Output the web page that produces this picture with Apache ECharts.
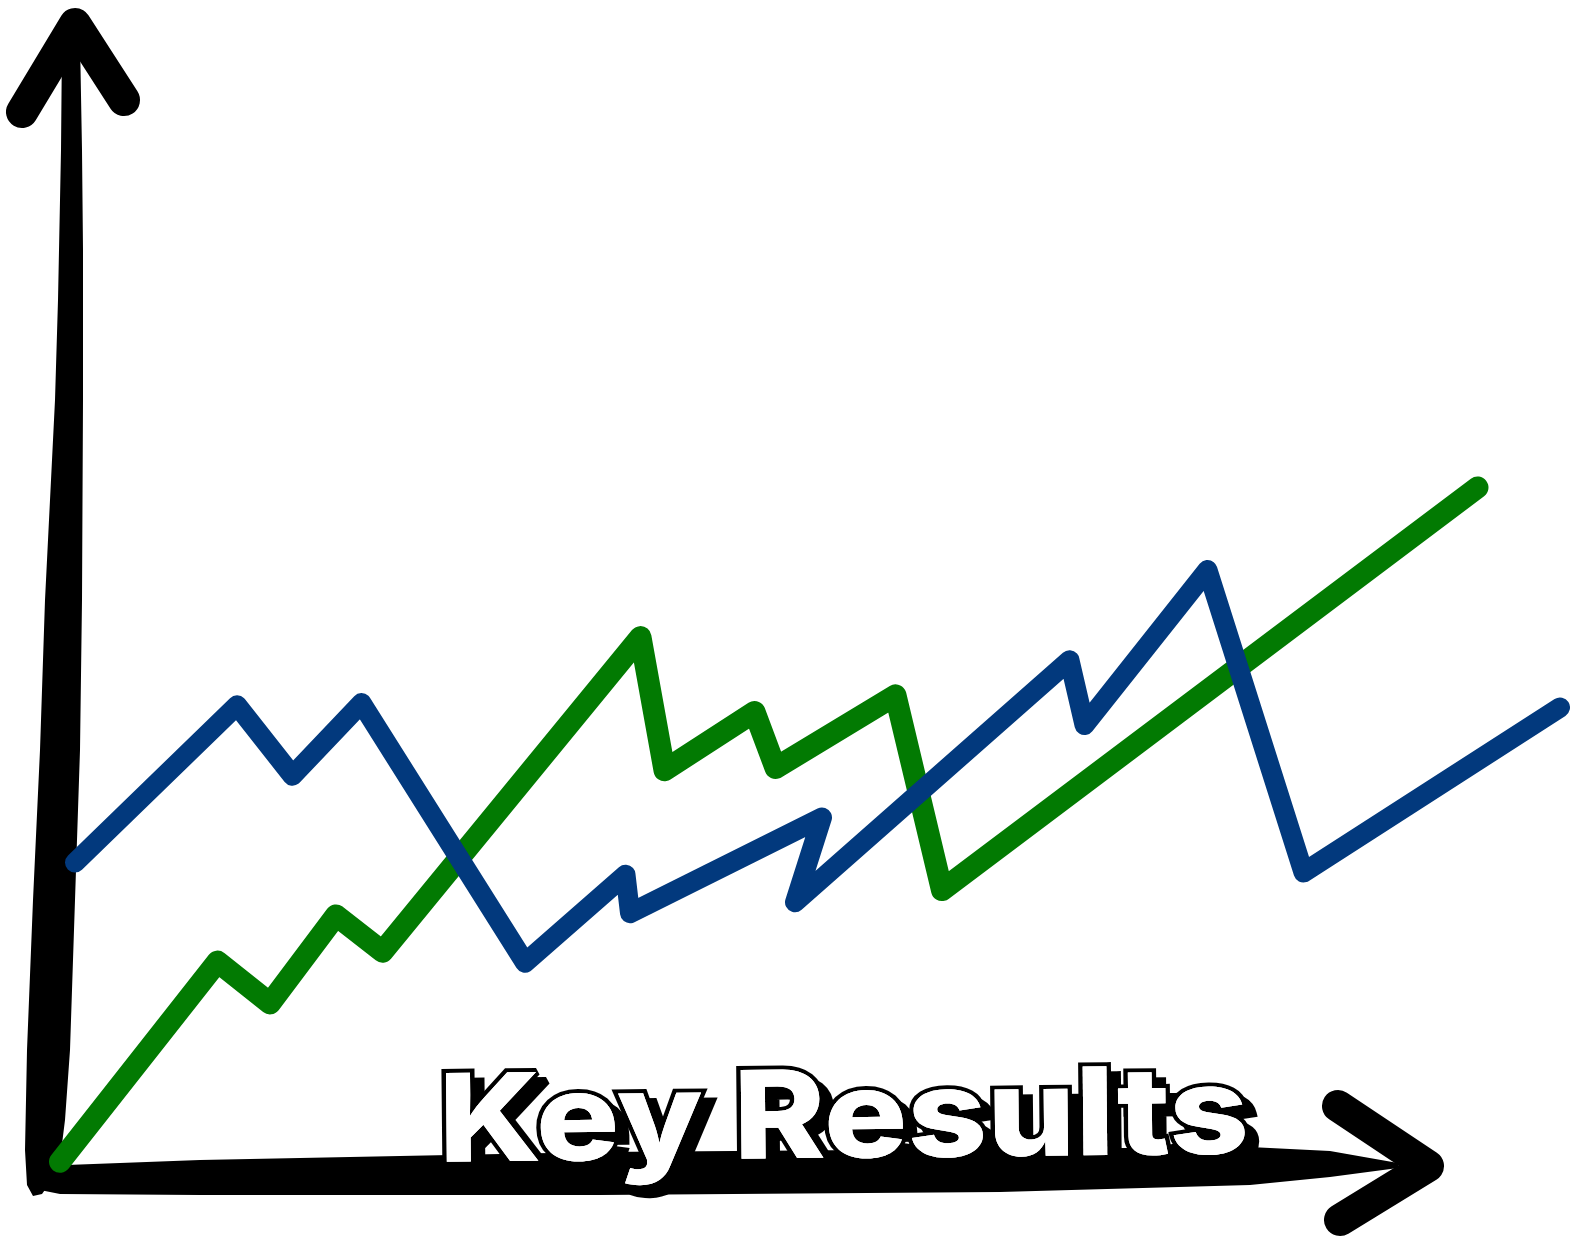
<!DOCTYPE html>
<html>
<head>
<meta charset="utf-8">
<script src="https://cdn.jsdelivr.net/npm/echarts@6/dist/echarts.min.js"></script>
<style>
html,body{margin:0;padding:0;background:#fff;}
#chart{width:1570px;height:1242px;}
</style>
</head>
<body>
<div id="chart"></div>
<script>
// ---- data ----
const titleText = 'Key Results';
const seriesNames = ['Green', 'Blue'];
const greenX = [1.0, 11.5, 15.0, 19.4, 22.5, 39.7, 41.3, 47.3, 48.7, 56.7, 59.8, 95.5];
const greenY = [1.2, 19.4, 15.6, 23.6, 20.3, 48.9, 36.8, 42.1, 37.0, 43.6, 25.9, 62.5];
const blueX = [2.0, 12.8, 16.5, 21.1, 32.0, 38.7, 39.0, 51.8, 50.0, 68.3, 69.3, 77.5, 83.9, 101.0];
const blueY = [28.4, 42.7, 36.3, 42.9, 19.3, 27.3, 23.8, 32.5, 24.8, 46.8, 40.9, 55.0, 27.5, 42.5];

function pairs(xs, ys) { return xs.map((x, i) => [x, ys[i]]); }

const chart = echarts.init(document.getElementById('chart'), null, {renderer: 'canvas'});

// hand-drawn axis shapes (decoration)
const yShaft = [[62,40],[61,150],[58,300],[55,400],[50,500],[45,600],[40,750],[33,900],[27,1050],[25,1150],[27,1185],[33,1196],[42,1194],[52,1180],[60,1160],[65,1120],[70,1050],[75,900],[80,750],[82,600],[83,400],[83,250],[82,150],[80,40]];
const xShaft = [[40,1166],[200,1160],[600,1152],[1000,1149],[1250,1147],[1330,1151],[1398,1163],[1398,1168],[1330,1177],[1250,1185],[1000,1192],[600,1195],[200,1195],[60,1194],[40,1190]];

const titleFont = '800 122px Inter, "Open Sans", sans-serif';

const option = {
  backgroundColor: '#ffffff',
  animation: false,
  grid: {left: 45, top: 75, width: 1515, height: 1100, containLabel: false},
  xAxis: {type: 'value', min: 0, max: 101, show: false},
  yAxis: {type: 'value', min: 0, max: 100, show: false},
  series: [
    {
      name: seriesNames[0], type: 'line', data: pairs(greenX, greenY),
      symbol: 'none', z: 3, clip: false, smooth: false,
      lineStyle: {color: '#027a02', width: 22, cap: 'round', join: 'round'}
    },
    {
      name: seriesNames[1], type: 'line', data: pairs(blueX, blueY),
      symbol: 'none', z: 4, clip: false, smooth: false,
      lineStyle: {color: '#02397d', width: 20, cap: 'round', join: 'round'}
    }
  ],
  graphic: [
    {type: 'polygon', z: 1, shape: {points: yShaft, smooth: 0}, style: {fill: '#000'}},
    {type: 'polyline', z: 1, shape: {points: [[22,112],[75,24],[124,100]]},
      style: {stroke: '#000', lineWidth: 32, lineCap: 'round', lineJoin: 'round', fill: null}},
    {type: 'polygon', z: 1, shape: {points: xShaft, smooth: 0}, style: {fill: '#000'}},
    {type: 'polyline', z: 1, shape: {points: [[1338,1106],[1428,1166],[1340,1220]]},
      style: {stroke: '#000', lineWidth: 32, lineCap: 'round', lineJoin: 'round', fill: null}},
    {type: 'text', z: 10, x: 448, y: 1073, rotation: 0.01, scaleX: 1.14,
      style: {text: titleText, font: titleFont,
        fill: '#000', stroke: '#000', lineWidth: 8, textVerticalAlign: 'top',
        shadowBlur: 6, shadowColor: 'rgba(0,0,0,0.8)'}},
    {type: 'text', z: 11, x: 438, y: 1064, rotation: 0.01, scaleX: 1.14,
      style: {text: titleText, font: titleFont,
        fill: '#fff', stroke: '#000', lineWidth: 8, textVerticalAlign: 'top'}},
    {type: 'text', z: 12, x: 438, y: 1064, rotation: 0.01, scaleX: 1.14,
      style: {text: titleText, font: titleFont,
        fill: '#fff', textVerticalAlign: 'top'}}
  ]
};
chart.setOption(option);
</script>
</body>
</html>
